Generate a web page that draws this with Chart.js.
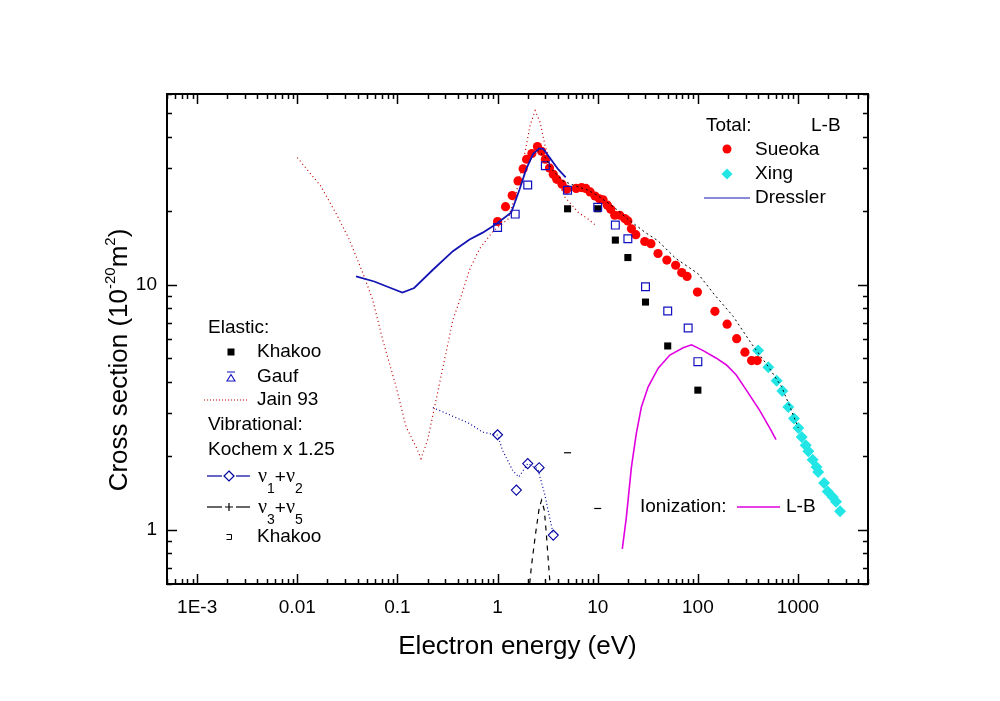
<!DOCTYPE html>
<html>
<head>
<meta charset="utf-8">
<title>Cross sections</title>
<script src="https://cdn.jsdelivr.net/npm/chart.js@4.4.1/dist/chart.umd.min.js"></script>
<style>
  html, body { margin:0; padding:0; background:#fff; }
  #wrap { position:relative; width:1000px; height:701px; }
</style>
</head>
<body>
<div id="wrap"><canvas id="chart"></canvas></div>
<script>
/********************
 * Data — energy in eV, cross section in 1e-20 m^2
 ********************/
const xTickValues = [0.001, 0.01, 0.1, 1, 10, 100, 1000];
const xTickLabels = ["1E-3", "0.01", "0.1", "1", "10", "100", "1000"];
const yTickValues = [1, 10];
const yTickLabels = ["1", "10"];

// Total: Sueoka (points)
const sueokaE = [1.0, 1.2, 1.4, 1.6, 1.8, 1.95, 2.2, 2.5, 2.75, 3.0, 3.3, 3.6, 3.9, 4.4, 4.9, 6.1, 6.9, 7.6, 8.4, 9.4,
                 10.4, 11.3, 12.5, 13.5, 14.8, 16.6, 18.6, 20, 21.7, 24, 29.5, 34, 40, 49, 60, 69, 78, 99, 148, 196,
                 244, 295, 344, 391];
const sueokaQ = [18.1, 20.8, 23.1, 26.5, 29.7, 32.5, 34.3, 36.6, 35.0, 32.5, 29.9, 28.2, 26.9, 25.7, 24.5, 24.7, 24.9, 24.7, 23.9, 23.0,
                 22.4, 22.2, 21.1, 20.3, 19.2, 19.2, 18.6, 18.2, 16.9, 16.0, 15.0, 14.7, 13.4, 12.6, 12.0, 11.2, 10.8, 9.33, 7.78, 6.9,
                 6.02, 5.3, 4.9, 4.9];

// Total: Xing (points)
const xingE = [400, 505, 612, 697, 800, 912, 1007, 1088, 1193, 1268, 1400, 1530, 1590, 1820, 1980, 2220, 2400, 2630];
const xingQ = [5.38, 4.60, 4.05, 3.68, 3.17, 2.84, 2.60, 2.39, 2.21, 2.09, 1.93, 1.80, 1.72, 1.55, 1.43, 1.36, 1.30, 1.19];

// Total: Dressler (line)
const dresslerE = [0.0386, 0.0587, 0.0857, 0.112, 0.147, 0.226, 0.358, 0.525, 0.71, 0.97, 1.37, 1.66, 1.93, 2.26, 2.6, 2.85, 3.31, 4.02, 4.79];
const dresslerQ = [10.8, 10.3, 9.69, 9.29, 9.69, 11.5, 13.7, 15.3, 16.3, 17.7, 19.7, 24.5, 29.6, 34.1, 36.0, 35.8, 33.0, 29.6, 27.4];

// Total: L-B (line)
const lbTotalE = [2.5, 3.0, 3.5, 4.5, 6, 8, 10, 15, 20, 30, 40, 60, 83, 100, 145, 226, 340, 505, 686, 832, 1007];
const lbTotalQ = [35.5, 33, 29.5, 26.5, 25.3, 24.3, 23.1, 20.5, 18.5, 16.3, 15.1, 12.8, 11.7, 11.1, 9.15, 7.41, 5.77, 4.63, 3.83, 3.17, 2.6];

// Elastic: Khakoo (points)
const khakooElE = [5, 10, 15, 20, 30, 50, 100];
const khakooElQ = [20.4, 20.4, 15.2, 12.9, 8.49, 5.62, 3.71];

// Elastic: Gauf (points)
const gaufE = [1, 1.5, 2, 3, 5, 10, 15, 20, 30, 50, 80, 100];
const gaufQ = [17.1, 19.4, 25.5, 30.6, 24.3, 20.7, 17.5, 15.4, 9.8, 7.8, 6.65, 4.85];

// Elastic: Jain 93 (line)
const jainE = [0.01, 0.0171, 0.0241, 0.033, 0.045, 0.0566, 0.0713, 0.097, 0.122, 0.154, 0.172, 0.2, 0.243, 0.295, 0.358, 0.43,
               0.525, 0.66, 0.9, 1.27, 1.54, 1.88, 2.11, 2.37, 2.66, 2.98, 3.62, 4.73, 6.4, 8.06, 9.8];
const jainQ = [33.0, 25.3, 19.7, 15.3, 11.2, 8.68, 5.95, 3.83, 2.63, 2.17, 1.95, 2.32, 3.38, 4.93, 7.19, 8.9,
               11.5, 14.0, 16.5, 18.5, 23.8, 34.7, 44.6, 51.3, 46.0, 36.9, 28.7, 22.7, 19.7, 18.5, 17.3];

// Vibrational (Kochem x 1.25): v1+v2 curve and its markers
const v12E = [0.226, 0.525, 0.71, 1.0, 1.12, 1.42, 1.63, 2.0, 2.52, 2.95, 3.31, 3.6];
const v12Q = [3.15, 2.71, 2.50, 2.43, 2.11, 1.74, 1.64, 1.86, 1.77, 1.40, 1.12, 0.96];
const v12MarkE = [1.0, 2.0, 1.54, 2.6, 3.6];
const v12MarkQ = [2.44, 1.86, 1.45, 1.79, 0.95];

// Vibrational: v3+v5 curve
const v35E = [2.05, 2.17, 2.38, 2.6, 2.75, 2.93, 3.07, 3.3, 3.42];
const v35Q = [0.55, 0.7, 0.945, 1.22, 1.32, 1.2, 0.96, 0.64, 0.55];

// Vibrational: Khakoo (points)
const khakooVibE = [5, 10];
const khakooVibQ = [2.06, 1.22];

// Ionization: L-B (line)
const ionE = [17.6, 19.3, 21.7, 24.3, 27.3, 31.9, 40.2, 52.5, 71.3, 86.5, 113, 153, 193, 242, 305, 414, 525, 603];
const ionQ = [0.834, 1.12, 1.80, 2.47, 3.17, 3.83, 4.56, 5.16, 5.53, 5.68, 5.38, 5.01, 4.70, 4.28, 3.71, 3.07, 2.59, 2.33];

/********************
 * Helpers
 ********************/
const FONT = "'Liberation Sans', Arial, Helvetica, sans-serif";
const SERIF = "'Liberation Serif', 'DejaVu Serif', serif";

function pts(xs, ys){
  return xs.map((x, i) => ({ x, y: ys[i] }));
}

function isDecade(v){
  const l = Math.log10(v);
  return Math.abs(l - Math.round(l)) < 1e-6;
}

// 1..9 x 10^n values inside [min, max]
function logMinorValues(min, max){
  const out = [];
  for(let e = Math.floor(Math.log10(min)); e <= Math.ceil(Math.log10(max)); e++){
    for(let m = 1; m <= 9; m++){
      const v = m * Math.pow(10, e);
      if(v >= min * (1 - 1e-9) && v <= max * (1 + 1e-9)) out.push(v);
    }
  }
  return out;
}

// draw text pieces with different sizes / baselines in a row
function drawRich(ctx, x, y, parts){
  let cx = x;
  for(const p of parts){
    ctx.font = p.font;
    ctx.fillText(p.t, cx, y + (p.dy || 0));
    cx += ctx.measureText(p.t).width;
  }
  return cx;
}

function richWidth(ctx, parts){
  let w = 0;
  for(const p of parts){ ctx.font = p.font; w += ctx.measureText(p.t).width; }
  return w;
}

function marker(ctx, style, x, y, r, fill, stroke){
  ctx.beginPath();
  if(style === "circle"){
    ctx.arc(x, y, r, 0, Math.PI * 2);
  } else if(style === "diamond"){
    ctx.moveTo(x, y - r); ctx.lineTo(x + r, y); ctx.lineTo(x, y + r); ctx.lineTo(x - r, y); ctx.closePath();
  } else if(style === "square"){
    ctx.rect(x - r, y - r, 2 * r, 2 * r);
  } else if(style === "plus"){
    ctx.moveTo(x - r, y); ctx.lineTo(x + r, y); ctx.moveTo(x, y - r); ctx.lineTo(x, y + r);
  }
  if(fill){ ctx.fillStyle = fill; ctx.fill(); }
  if(stroke){ ctx.strokeStyle = stroke; ctx.lineWidth = 1.2; ctx.stroke(); }
}

function seg(ctx, x1, x2, y, color, width, dash){
  ctx.save();
  ctx.beginPath();
  ctx.setLineDash(dash || []);
  ctx.strokeStyle = color;
  ctx.lineWidth = width;
  ctx.moveTo(x1, y); ctx.lineTo(x2, y);
  ctx.stroke();
  ctx.restore();
}

/********************
 * Plugins: inward ticks + frame, y title, legends
 ********************/
const frameTicks = {
  id: "frameTicks",
  afterDatasetsDraw(chart){
    const { ctx, chartArea: a, scales: { x, y } } = chart;
    ctx.save();
    ctx.strokeStyle = "#000";
    ctx.lineWidth = 1.5;
    ctx.beginPath();
    for(const v of logMinorValues(x.min, x.max)){
      const px = Math.round(x.getPixelForValue(v)) + 0.5;
      const len = isDecade(v) ? 10 : 5;
      ctx.moveTo(px, a.bottom); ctx.lineTo(px, a.bottom - len);
      ctx.moveTo(px, a.top); ctx.lineTo(px, a.top + len);
    }
    for(const v of logMinorValues(y.min, y.max)){
      const py = Math.round(y.getPixelForValue(v)) + 0.5;
      const len = isDecade(v) ? 10 : 5;
      ctx.moveTo(a.left, py); ctx.lineTo(a.left + len, py);
      ctx.moveTo(a.right, py); ctx.lineTo(a.right - len, py);
    }
    ctx.stroke();
    ctx.lineWidth = 2;
    ctx.strokeRect(a.left, a.top, a.right - a.left, a.bottom - a.top);
    ctx.restore();
  }
};

const yTitle = {
  id: "yTitle",
  afterDraw(chart){
    const ctx = chart.ctx;
    const big = `26px ${FONT}`;
    const small = `15px ${FONT}`;
    const parts = [
      { t: "Cross section (10", font: big },
      { t: "-20", font: small, dy: -12 },
      { t: "m", font: big },
      { t: "2", font: small, dy: -12 },
      { t: ")", font: big }
    ];
    ctx.save();
    ctx.fillStyle = "#000";
    ctx.textBaseline = "alphabetic";
    ctx.translate(127, 360);
    ctx.rotate(-Math.PI / 2);
    const w = richWidth(ctx, parts);
    drawRich(ctx, -w / 2, 0, parts);
    ctx.restore();
  }
};

const legends = {
  id: "legends",
  afterDraw(chart){
    const ctx = chart.ctx;
    const f = `19px ${FONT}`;
    ctx.save();
    ctx.fillStyle = "#000";
    ctx.textBaseline = "middle";
    ctx.font = f;

    // Total block (top right)
    ctx.fillText("Total:", 706, 126);
    ctx.fillText("L-B", 811, 126);
    marker(ctx, "circle", 727, 149, 4.5, "#ff0000");
    ctx.fillStyle = "#000"; ctx.font = f;
    ctx.fillText("Sueoka", 755, 150);
    marker(ctx, "diamond", 727, 174, 5.5, "#22e6e6");
    ctx.fillStyle = "#000"; ctx.font = f;
    ctx.fillText("Xing", 755, 174);
    seg(ctx, 704, 750, 198, "#1414b4", 1.2);
    ctx.fillText("Dressler", 755, 198);

    // Elastic / vibrational block (left)
    ctx.fillText("Elastic:", 208, 328);
    marker(ctx, "square", 231, 352, 3.5, "#000");
    ctx.fillStyle = "#000"; ctx.font = f;
    ctx.fillText("Khakoo", 257, 352);
    ctx.save();
    ctx.strokeStyle = "#1010c0"; ctx.lineWidth = 1.1;
    ctx.beginPath();
    ctx.moveTo(227, 372); ctx.lineTo(235, 372);
    ctx.moveTo(227, 381); ctx.lineTo(235, 381); ctx.lineTo(231, 374.5); ctx.closePath();
    ctx.stroke();
    ctx.restore();
    ctx.fillText("Gauf", 257, 377);
    seg(ctx, 204, 248, 400, "#c00000", 1.2, [1, 2]);
    ctx.fillText("Jain 93", 257, 400);
    ctx.fillText("Vibrational:", 208, 425);
    ctx.fillText("Kochem x 1.25", 208, 450);

    seg(ctx, 207, 222, 476, "#0000a0", 1.2);
    seg(ctx, 236, 250, 476, "#0000a0", 1.2);
    marker(ctx, "diamond", 229, 476, 5, null, "#0000a0");
    seg(ctx, 207, 222, 507, "#000", 1.2);
    seg(ctx, 236, 250, 507, "#000", 1.2);
    marker(ctx, "plus", 229, 507, 4, null, "#000");

    const nu = `20px ${SERIF}`;
    const sub = `14px ${FONT}`;
    ctx.fillStyle = "#000";
    ctx.textBaseline = "alphabetic";
    drawRich(ctx, 258, 482, [
      { t: "ν", font: nu }, { t: "1", font: sub, dy: 11 },
      { t: "+", font: f, dy: 1 },
      { t: "ν", font: nu }, { t: "2", font: sub, dy: 11 }
    ]);
    drawRich(ctx, 258, 513, [
      { t: "ν", font: nu }, { t: "3", font: sub, dy: 11 },
      { t: "+", font: f, dy: 1 },
      { t: "ν", font: nu }, { t: "5", font: sub, dy: 11 }
    ]);
    ctx.textBaseline = "middle";
    ctx.save();
    ctx.strokeStyle = "#000"; ctx.lineWidth = 1;
    ctx.beginPath();
    ctx.moveTo(226.5, 534.5); ctx.lineTo(231.5, 534.5); ctx.lineTo(231.5, 539.5); ctx.lineTo(226.5, 539.5);
    ctx.stroke();
    ctx.restore();
    ctx.font = f;
    ctx.fillText("Khakoo", 257, 537);

    // Ionization (bottom right)
    ctx.fillText("Ionization:", 640, 507);
    seg(ctx, 737, 780, 507, "#e000e0", 1.6);
    ctx.fillText("L-B", 786, 507);
    ctx.restore();
  }
};

/********************
 * Chart
 ********************/
Chart.defaults.font.family = FONT;
Chart.defaults.color = "#000";

const datasets = [
  { label: "Dressler", data: pts(dresslerE, dresslerQ), showLine: true,
    borderColor: "#1414b4", borderWidth: 1.8, pointRadius: 0, tension: 0 },
  { label: "L-B total", data: pts(lbTotalE, lbTotalQ), showLine: true,
    borderColor: "#000", borderWidth: 1, borderDash: [2, 3], pointRadius: 0 },
  { label: "Gauf", data: pts(gaufE, gaufQ), showLine: false,
    pointStyle: "rect", pointRadius: 5.5, pointBorderColor: "#1010c0",
    pointBackgroundColor: "rgba(0,0,0,0)", pointBorderWidth: 1.2 },
  { label: "Khakoo (elastic)", data: pts(khakooElE, khakooElQ), showLine: false,
    pointStyle: "rect", pointRadius: 5, pointBorderColor: "#000",
    pointBackgroundColor: "#000", pointBorderWidth: 0 },
  { label: "v1+v2 markers", data: pts(v12MarkE, v12MarkQ), showLine: false,
    pointStyle: "rectRot", pointRadius: 5, pointBorderColor: "#0000a0",
    pointBackgroundColor: "rgba(0,0,0,0)", pointBorderWidth: 1.1 },
  { label: "v1+v2", data: pts(v12E, v12Q), showLine: true,
    borderColor: "#0000a0", borderWidth: 1.2, borderDash: [1, 2.5], pointRadius: 0 },
  { label: "v3+v5", data: pts(v35E, v35Q), showLine: true,
    borderColor: "#000", borderWidth: 1.2, borderDash: [5, 5], pointRadius: 0 },
  { label: "Khakoo (vib)", data: pts(khakooVibE, khakooVibQ), showLine: false,
    pointStyle: "line", pointRadius: 3.5, pointBorderColor: "#000", pointBorderWidth: 1.2 },
  { label: "Sueoka", data: pts(sueokaE, sueokaQ), showLine: false,
    pointStyle: "circle", pointRadius: 4.6, pointBorderWidth: 0,
    pointBackgroundColor: "#ff0000" },
  { label: "Xing", data: pts(xingE, xingQ), showLine: false,
    pointStyle: "rectRot", pointRadius: 6, pointBorderWidth: 0,
    pointBackgroundColor: "#22e6e6" },
  { label: "Jain 93", data: pts(jainE, jainQ), showLine: true,
    borderColor: "#c00000", borderWidth: 1.2, borderDash: [1, 3], pointRadius: 0 },
  { label: "Ionization L-B", data: pts(ionE, ionQ), showLine: true,
    borderColor: "#e000e0", borderWidth: 1.6, pointRadius: 0 }
];

new Chart(document.getElementById("chart"), {
  type: "scatter",
  data: { datasets },
  options: {
    responsive: true,
    maintainAspectRatio: false,
    animation: false,
    events: [],
    layout: { padding: { left: 0, top: 94, right: 132, bottom: 0 } },
    plugins: { legend: { display: false }, tooltip: { enabled: false } },
    scales: {
      x: {
        type: "logarithmic",
        min: 5e-4,
        max: 5000,
        grid: { display: false, drawTicks: false, tickLength: 0 },
        border: { display: false },
        afterBuildTicks(scale){ scale.ticks = xTickValues.map(v => ({ value: v })); },
        afterFit(scale){ scale.height = 117; },
        ticks: {
          autoSkip: false, maxRotation: 0, padding: 12,
          font: { size: 19 },
          callback: (v, i) => xTickLabels[i]
        },
        title: {
          display: true, text: "Electron energy (eV)",
          font: { size: 26 }, padding: { top: 0, bottom: 39 }
        }
      },
      y: {
        type: "logarithmic",
        min: 0.6,
        max: 60,
        grid: { display: false, drawTicks: false, tickLength: 0 },
        border: { display: false },
        afterBuildTicks(scale){ scale.ticks = yTickValues.map(v => ({ value: v })); },
        afterFit(scale){ scale.width = 167; },
        ticks: {
          autoSkip: false, padding: 10,
          font: { size: 19 },
          callback: (v, i) => yTickLabels[i]
        }
      }
    }
  },
  plugins: [frameTicks, yTitle, legends]
});
</script>
</body>
</html>
